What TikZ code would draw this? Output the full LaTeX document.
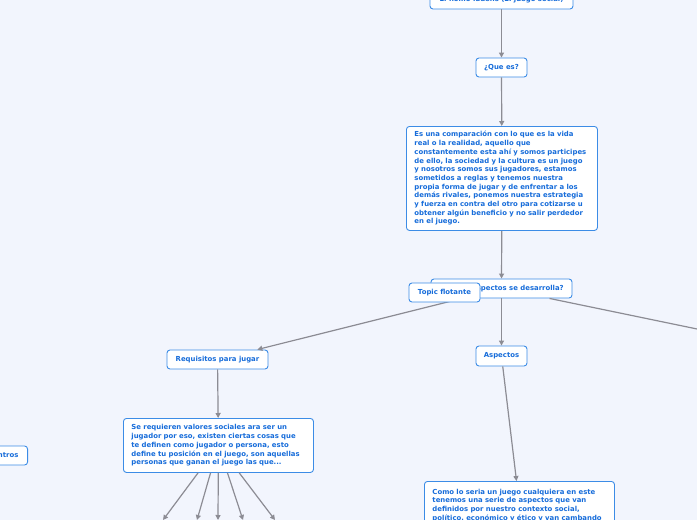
\documentclass[tikz,border=0pt]{standalone}
\usepackage{fontspec}
\setmainfont{DejaVu Sans}
\usetikzlibrary{arrows.meta}
\definecolor{bgc}{RGB}{242,245,253}
\definecolor{bord}{RGB}{60,140,230}
\definecolor{txt}{RGB}{22,108,218}
\definecolor{lineg}{RGB}{140,140,148}
\begin{document}
\begin{tikzpicture}[x=1pt,y=-1pt,
  font=\bfseries\fontsize{6.9}{8.7}\selectfont,
  box/.style={draw=bord, fill=white, rounded corners=3pt, line width=0.9pt, text=txt,
    inner xsep=0pt, inner ysep=0pt, minimum height=19pt, align=center},
  bigbox/.style={box, align=left, inner xsep=8pt, inner ysep=4pt, anchor=north west},
  conn/.style={draw=lineg, line width=1.2pt, -{Triangle[length=5pt,width=5pt]}},
  plain/.style={draw=lineg, line width=1.2pt}]
\useasboundingbox (0,0) rectangle (697,520);
\fill[bgc] (0,0) rectangle (697,520);
\clip (0,0) rectangle (697,520);

\node[box, minimum width=143pt] (top) at (501.5,-0.5) {El homo ludens (El juego social)};
\node[box, minimum width=51pt] (que) at (501.5,67.5) {¿Que es?};
\node[bigbox, minimum width=191pt, minimum height=104pt, text width=175pt] (comp) at (406,126) {Es una comparación con lo que es la vida\\real o la realidad, aquello que\\constantemente esta ahí y somos participes\\de ello, la sociedad y la cultura es un juego\\y nosotros somos sus jugadores, estamos\\sometidos a reglas y tenemos nuestra\\propia forma de jugar y de enfrentar a los\\demás rivales, ponemos nuestra estrategia\\y fuerza en contra del otro para cotizarse u\\obtener algún beneficio y no salir perdedor\\en el juego.};
\node[box, minimum width=141pt] (aspq) at (501.5,288.5) {¿En que aspectos se desarrolla?};
\node[box, minimum width=101pt] (req) at (217.5,359.5) {Requisitos para jugar};
\node[box, minimum width=51pt, minimum height=20pt] (asp) at (501.5,356) {Aspectos};
\node[bigbox, minimum width=190pt, minimum height=54pt, text width=174pt] (valores) at (123,418) {Se requieren valores sociales ara ser un\\jugador por eso, existen ciertas cosas que\\te definen como jugador o persona, esto\\define tu posición en el juego, son aquellas\\personas que ganan el juego las que...};
\node[bigbox, minimum width=190pt, minimum height=48pt, text width=174pt] (como) at (424,481) {Como lo seria un juego cualquiera en este\\tenemos una serie de aspectos que van\\definidos por nuestro contexto social,\\político, económico y ético y van cambando};
\node[box, minimum width=62pt, anchor=east] (encu) at (28,455.5) {Encuentros};

\coordinate (right) at (900,371);
\coordinate (t1) at (163,520);
\coordinate (t2) at (197,520);
\coordinate (t3) at (218,520);
\coordinate (t4) at (243,520);
\coordinate (t5) at (275,520);

\draw[conn] (top) -- (que);
\draw[conn] (que) -- (comp);
\draw[conn] (comp) -- (aspq);
\draw[conn] (aspq) -- (req);
\draw[conn] (aspq) -- (asp);
\draw[plain] (aspq) -- (right);
\draw[conn] (req) -- (valores);
\draw[conn] (asp) -- (como);
\foreach \t in {t1,t2,t3,t4,t5} \draw[conn] (valores) -- (\t);

\node[box, minimum width=71pt] (flot) at (444.5,292.5) {Topic flotante};
\end{tikzpicture}
\end{document}
